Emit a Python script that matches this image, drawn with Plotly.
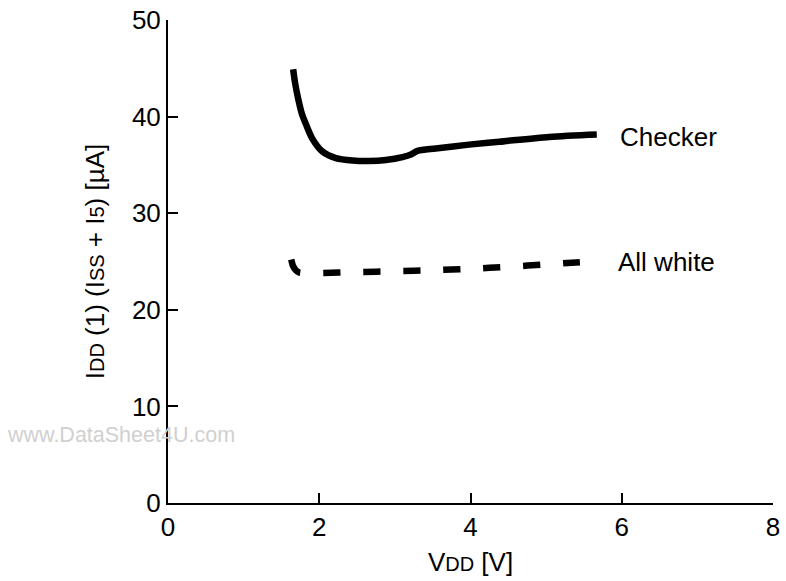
import plotly.graph_objects as go

# Checker pattern current vs supply voltage
checker_vdd = [1.655, 1.68, 1.72, 1.77, 1.83, 1.91, 2.04, 2.22, 2.44, 2.66, 2.88, 3.10, 3.22, 3.30, 3.54, 3.98, 4.38, 5.04, 5.67]
checker_idd = [44.9, 43.5, 41.9, 40.3, 39.1, 37.7, 36.4, 35.7, 35.45, 35.4, 35.5, 35.8, 36.1, 36.45, 36.7, 37.1, 37.4, 37.9, 38.15]

# All-white pattern current vs supply voltage
white_vdd = [1.63, 1.65, 1.69, 1.74, 1.85, 2.0, 2.5, 3.0, 3.5, 4.0, 4.5, 5.0, 5.67]
white_idd = [25.2, 24.6, 24.1, 23.85, 23.8, 23.8, 23.9, 24.0, 24.1, 24.25, 24.45, 24.7, 25.05]

x_ticks = [0, 2, 4, 6, 8]
y_ticks = [0, 10, 20, 30, 40, 50]

FONT = "Liberation Sans, Arial, sans-serif"
SMALL = '<span style="font-size:20px">{}</span>'

fig = go.Figure()

fig.add_trace(go.Scatter(
    x=checker_vdd, y=checker_idd,
    mode="lines",
    line=dict(color="black", width=6.5, shape="spline", smoothing=0.8),
    showlegend=False,
    hoverinfo="skip",
))

fig.add_trace(go.Scatter(
    x=white_vdd, y=white_idd,
    mode="lines",
    line=dict(color="black", width=6.5, dash="17px,23px", shape="spline", smoothing=0.6),
    showlegend=False,
    hoverinfo="skip",
))

# curve labels
fig.add_annotation(x=5.95, y=37.9, text="Checker", showarrow=False,
                   xanchor="left", yanchor="middle", font=dict(size=26, color="black", family=FONT))
fig.add_annotation(x=5.92, y=24.9, text="All white", showarrow=False,
                   xanchor="left", yanchor="middle", font=dict(size=26, color="black", family=FONT))

# watermark
fig.add_annotation(xref="paper", yref="paper", x=-163 / 605, y=(502.5 - 435) / 482,
                   text="www.DataSheet4U.com", showarrow=False,
                   xanchor="left", yanchor="middle",
                   font=dict(size=21.5, color="#d0d0d0", family=FONT))

fig.update_layout(
    width=786, height=581,
    margin=dict(l=168, r=13, t=20, b=78),
    plot_bgcolor="white",
    paper_bgcolor="white",
    font=dict(family=FONT, size=26, color="black"),
    xaxis=dict(
        range=[0, 8],
        tickvals=x_ticks,
        ticks="inside", ticklen=10, tickwidth=1.5, tickcolor="black",
        showline=True, linecolor="black", linewidth=2,
        showgrid=False, zeroline=False, automargin=False,
        tickfont=dict(size=26),
        title=dict(text="V" + SMALL.format("DD") + " [V]", font=dict(size=26), standoff=12),
    ),
    yaxis=dict(
        range=[0, 50],
        tickvals=y_ticks,
        ticks="inside", ticklen=10, tickwidth=1.5, tickcolor="black",
        showline=True, linecolor="black", linewidth=2,
        showgrid=False, zeroline=False, automargin=False,
        tickfont=dict(size=26),
        title=dict(
            text="I" + SMALL.format("DD") + " (1) (I" + SMALL.format("SS") + " + I" + SMALL.format("5") + ") [µA]",
            font=dict(size=26), standoff=20,
        ),
    ),
)

fig.write_html("out.html", config={"displayModeBar": False},
               post_script="document.body.style.margin='0';")
